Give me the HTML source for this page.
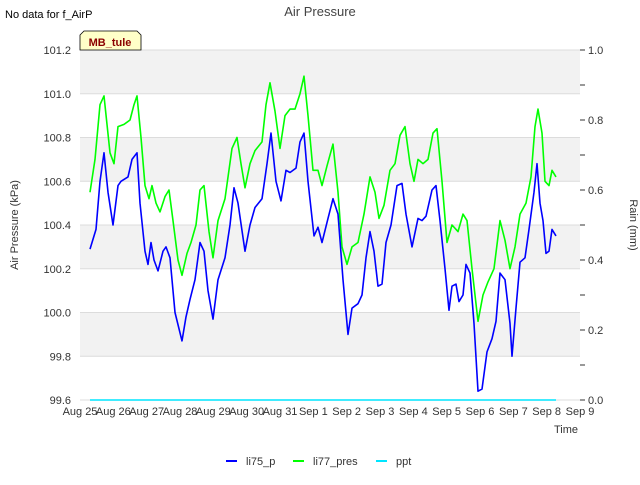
<!DOCTYPE html>
<html><head><meta charset="utf-8"><style>
body{margin:0;background:#fff;font-family:"Liberation Sans",sans-serif;}
svg text{font-family:"Liberation Sans",sans-serif;}
</style></head><body>
<svg id="chart" width="640" height="480">
<rect x="0" y="0" width="640" height="480" fill="#fff"/>
<g id="bands"></g>
<g id="grid"></g>
<g id="axes"></g>
<g id="series"></g>
<text x="320" y="16" text-anchor="middle" font-size="13" fill="#444">Air Pressure</text>
<text x="5" y="18" font-size="11" fill="#000">No data for f_AirP</text>
<g>
<path d="M80,50 L80,35 L84,31 L137,31 L141,35 L141,50 Z" fill="#ffffc8" stroke="#000" stroke-width="0.8"/>
<text x="110" y="46" text-anchor="middle" font-size="11" font-weight="bold" fill="#8b0000">MB_tule</text>
</g>
<text transform="translate(18,225) rotate(-90)" text-anchor="middle" font-size="11" fill="#333">Air Pressure (kPa)</text>
<text transform="translate(630,225) rotate(90)" text-anchor="middle" font-size="11" fill="#333">Rain (mm)</text>
<text x="578" y="433" text-anchor="end" font-size="11" fill="#333">Time</text>
<g>
<g><line x1="226" y1="461" x2="237" y2="461" stroke="#0000ff" stroke-width="2"/><text x="246" y="465" font-size="11" fill="#333">li75_p</text></g>
<g><line x1="293" y1="461" x2="304" y2="461" stroke="#00ff00" stroke-width="2"/><text x="313" y="465" font-size="11" fill="#333">li77_pres</text></g>
<g><line x1="376" y1="461" x2="387" y2="461" stroke="#00e5ff" stroke-width="2"/><text x="396" y="465" font-size="11" fill="#333">ppt</text></g>
</g>
</svg>
<script>
const xTickLabels=["Aug 25","Aug 26","Aug 27","Aug 28","Aug 29","Aug 30","Aug 31","Sep 1","Sep 2","Sep 3","Sep 4","Sep 5","Sep 6","Sep 7","Sep 8","Sep 9"];
const yTicks=[99.6,99.8,100.0,100.2,100.4,100.6,100.8,101.0,101.2];
const y2Ticks=[0.0,0.2,0.4,0.6,0.8,1.0];
const blueDays=[0.3,0.48,0.6,0.72,0.84,0.99,1.14,1.23,1.44,1.56,1.71,1.8,1.95,2.04,2.13,2.22,2.34,2.49,2.58,2.7,2.85,3.06,3.18,3.3,3.45,3.6,3.72,3.84,3.99,4.14,4.35,4.5,4.62,4.74,4.95,5.1,5.25,5.46,5.61,5.73,5.88,6.03,6.18,6.3,6.48,6.6,6.72,6.84,7.02,7.14,7.26,7.44,7.59,7.74,7.89,8.04,8.16,8.34,8.46,8.58,8.7,8.82,8.94,9.06,9.18,9.33,9.51,9.66,9.78,9.96,10.14,10.26,10.38,10.56,10.68,10.8,10.95,11.07,11.16,11.28,11.37,11.49,11.58,11.7,11.82,11.94,12.06,12.21,12.36,12.48,12.6,12.75,12.9,12.96,13.08,13.2,13.35,13.47,13.62,13.71,13.8,13.89,13.98,14.07,14.16,14.28];
const blueVals=[100.29,100.38,100.6,100.73,100.55,100.40,100.58,100.6,100.62,100.70,100.73,100.5,100.28,100.22,100.32,100.24,100.19,100.28,100.30,100.25,100.0,99.87,99.98,100.06,100.15,100.32,100.28,100.1,99.97,100.15,100.25,100.4,100.57,100.5,100.28,100.4,100.48,100.52,100.68,100.82,100.6,100.51,100.65,100.64,100.66,100.78,100.82,100.6,100.35,100.39,100.32,100.43,100.52,100.45,100.15,99.9,100.02,100.04,100.08,100.25,100.37,100.28,100.12,100.13,100.32,100.4,100.58,100.59,100.45,100.3,100.43,100.42,100.44,100.56,100.58,100.42,100.2,100.01,100.12,100.13,100.05,100.08,100.22,100.18,99.95,99.64,99.65,99.82,99.88,99.96,100.18,100.15,99.95,99.8,100.02,100.23,100.25,100.38,100.55,100.68,100.5,100.42,100.27,100.28,100.38,100.35];
const greenDays=[0.3,0.45,0.6,0.72,0.9,1.02,1.14,1.32,1.5,1.62,1.71,1.83,1.95,2.07,2.16,2.28,2.4,2.55,2.67,2.79,2.94,3.06,3.21,3.33,3.48,3.6,3.72,3.87,3.99,4.14,4.35,4.56,4.71,4.83,4.95,5.1,5.25,5.46,5.58,5.7,5.85,6.0,6.15,6.3,6.45,6.6,6.72,6.84,6.99,7.14,7.26,7.41,7.59,7.74,7.86,8.01,8.16,8.34,8.52,8.7,8.85,8.97,9.12,9.3,9.45,9.6,9.75,9.9,10.02,10.14,10.29,10.44,10.59,10.71,10.86,11.01,11.16,11.34,11.49,11.61,11.76,11.94,12.09,12.24,12.42,12.6,12.75,12.9,13.05,13.2,13.38,13.53,13.65,13.74,13.86,13.95,14.07,14.16,14.28];
const greenVals=[100.55,100.7,100.95,100.99,100.73,100.68,100.85,100.86,100.88,100.95,100.99,100.8,100.58,100.52,100.58,100.5,100.46,100.53,100.56,100.42,100.24,100.17,100.27,100.32,100.4,100.56,100.58,100.37,100.25,100.42,100.52,100.75,100.8,100.68,100.57,100.68,100.74,100.78,100.95,101.05,100.92,100.75,100.9,100.93,100.93,101.0,101.08,100.9,100.65,100.65,100.58,100.67,100.77,100.55,100.3,100.22,100.3,100.32,100.45,100.62,100.55,100.43,100.49,100.65,100.68,100.81,100.85,100.68,100.6,100.7,100.68,100.7,100.82,100.84,100.6,100.32,100.4,100.37,100.45,100.42,100.2,99.96,100.08,100.14,100.2,100.42,100.33,100.2,100.3,100.45,100.5,100.62,100.85,100.93,100.82,100.6,100.58,100.65,100.62];
const pptDays=[0.3,14.28];
const pptVals=[0,0];

const L=80,R=580,T=50,B=400;
const xS=d=>L+(R-L)*d/15;
const yS=v=>B-(v-99.6)/1.6*(B-T);
const y2S=v=>B-v*(B-T);
const NS="http://www.w3.org/2000/svg";
function mk(tag,attrs,parent){const e=document.createElementNS(NS,tag);for(const k in attrs)e.setAttribute(k,attrs[k]);parent.appendChild(e);return e;}
const bands=document.getElementById('bands'),grid=document.getElementById('grid'),axes=document.getElementById('axes'),series=document.getElementById('series');
for(let i=0;i<yTicks.length-1;i++){
  if(i%2===1){const r=mk('rect',{x:L,y:yS(yTicks[i+1]),width:R-L,height:yS(yTicks[i])-yS(yTicks[i+1]),fill:'#f2f2f2'},bands);
  
  }
}
yTicks.forEach(v=>{
  const l=mk('line',{x1:L,x2:R,y1:yS(v),y2:yS(v),stroke:'#dcdcdc','stroke-width':1},grid);
  
  
  const t=mk('text',{x:L-9,y:yS(v)+4,'text-anchor':'end','font-size':11,fill:'#333'},axes);
  t.textContent=v.toFixed(1);
  
  
});
for(let k=0;k<=10;k++){
  const v=k/10;
  const tk=mk('line',{x1:R,x2:R+5,y1:y2S(v),y2:y2S(v),stroke:'#333','stroke-width':1},axes);
  
  
}
y2Ticks.forEach(v=>{
  const t=mk('text',{x:R+8,y:y2S(v)+4,'font-size':11,fill:'#333'},axes);
  t.textContent=v.toFixed(1);
  
  
});
xTickLabels.forEach((s,i)=>{
  const t=mk('text',{x:xS(i),y:415,'text-anchor':'middle','font-size':11,fill:'#333'},axes);
  t.textContent=s;
  
  
});
function line(days,vals,sc,color,name){
  const p=mk('polyline',{points:days.map((d,i)=>xS(d).toFixed(1)+','+sc(vals[i]).toFixed(1)).join(' '),fill:'none',stroke:color,'stroke-width':1.6,'stroke-linejoin':'round'},series);
  
  
}
line(pptDays,pptVals,y2S,'#00e5ff','ppt-line');
line(greenDays,greenVals,yS,'#00ff00','li77-pres-line');
line(blueDays,blueVals,yS,'#0000ff','li75-p-line');
</script>
</body></html>
